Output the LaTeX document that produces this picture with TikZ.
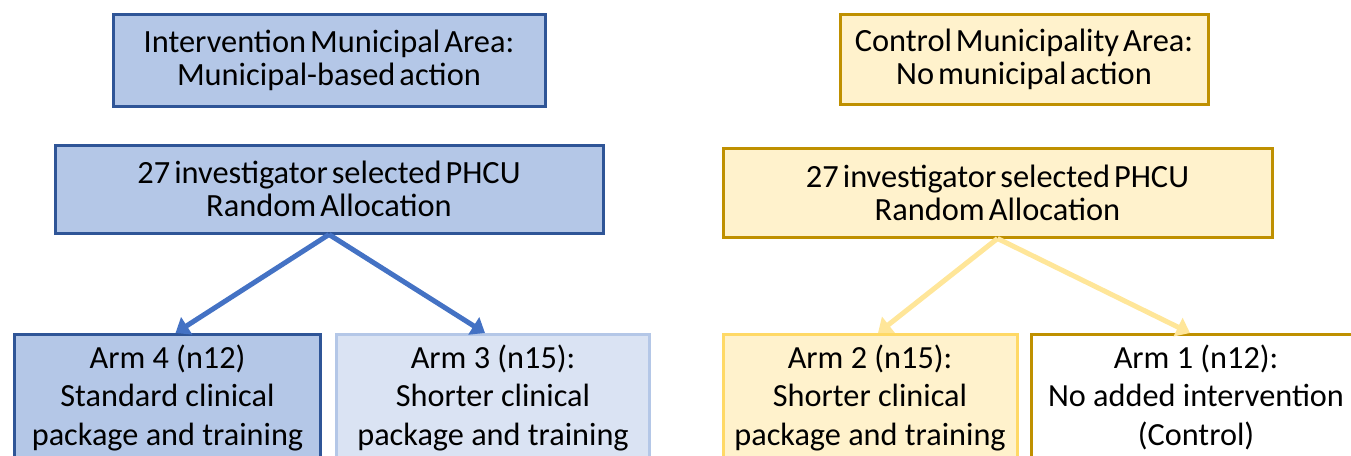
\documentclass[tikz,border=0pt]{standalone}
\usepackage{fontspec}
\setmainfont{Carlito}
\usetikzlibrary{arrows.meta,calc}
\definecolor{bfill}{HTML}{B4C7E7}
\definecolor{bdraw}{HTML}{2F5597}
\definecolor{barrow}{HTML}{4472C4}
\definecolor{lbfill}{HTML}{DAE3F3}
\definecolor{yfill}{HTML}{FFF2CC}
\definecolor{ydraw}{HTML}{BF9000}
\definecolor{lydraw}{HTML}{FFD966}
\definecolor{yarrow}{HTML}{FFE699}
\newcommand\mytightfont{\fontsize{24.3pt}{24.75pt}\selectfont\spaceskip=3pt plus 1pt\relax}
\begin{document}
\begin{tikzpicture}[x=0.75pt,y=-0.75pt,
  box/.style={rectangle,line width=2.25pt,align=center,inner sep=0pt,
    font=\mytightfont},
  armbox/.style={rectangle,line width=2.25pt,align=center,anchor=north,
    inner xsep=0pt,inner ysep=7.5pt,
    font=\fontsize{24.2pt}{29pt}\selectfont},
  bluebox/.style={fill=bfill,draw=bdraw},
  yelbox/.style={fill=yfill,draw=ydraw},
  barr/.style={line width=3.75pt,draw=barrow,-{Triangle[width=15pt,length=10pt]}},
  yarr/.style={line width=3.75pt,draw=yarrow,-{Triangle[width=15pt,length=10pt]}}]
\useasboundingbox (0,0) rectangle (1351,455);
\clip (0,0) rectangle (1351,455);

\node[box,bluebox,minimum width=324pt,minimum height=69pt] (A) at (329,60)
  {Intervention Municipal Area:\\Municipal-based action};
\node[box,bluebox,minimum width=411pt,minimum height=66pt] (B) at (329,189)
  {27 investigator selected PHCU\\Random Allocation};
\node[box,yelbox,minimum width=276pt,minimum height=67.5pt] (C) at (1024,59)
  {Control Municipality Area:\\No municipal action};
\node[box,yelbox,minimum width=411.75pt,minimum height=66.75pt] (D) at (997.5,192.5)
  {27 investigator selected PHCU\\Random Allocation};

\node[armbox,fill=bfill,draw=bdraw,minimum width=230pt] (arm4) at (167.5,333)
  {Arm 4 (n12)\\Standard clinical\\package and training};
\node[armbox,fill=lbfill,draw=bfill,minimum width=235pt] (arm3) at (493,333)
  {Arm 3 (n15):\\Shorter clinical\\package and training};
\node[armbox,fill=yfill,draw=lydraw,minimum width=220.5pt] (arm2) at (870,333)
  {Arm 2 (n15):\\Shorter clinical\\package and training};
\node[armbox,fill=white,draw=ydraw,minimum width=247.5pt] (arm1) at (1196,333)
  {Arm 1 (n12):\\No added intervention\\(Control)};

\draw[barr] (B.south) -- ($(arm4.north)+(8,0)$);
\draw[barr] (B.south) -- ($(arm3.north)+(-8,0)$);
\draw[yarr] (D.south) -- ($(arm2.north)+(8,0)$);
\draw[yarr] (D.south) -- ($(arm1.north)+(-6,0)$);
\end{tikzpicture}
\end{document}
